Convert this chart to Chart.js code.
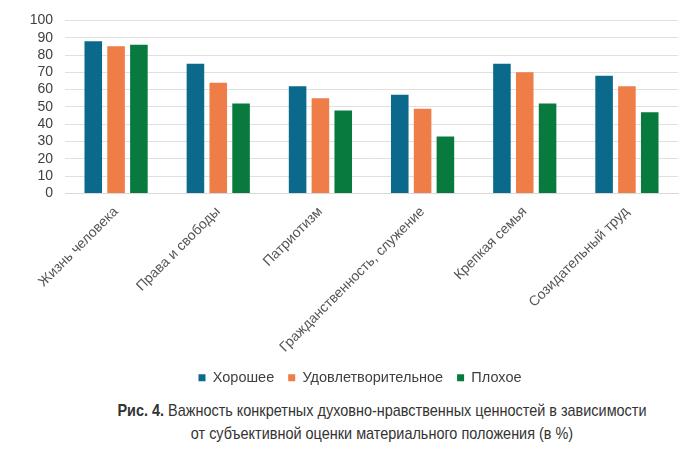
<!DOCTYPE html>
<html lang="ru">
<head>
    <meta charset="UTF-8">
    <title>Рис. 4</title>
    <script src="https://cdn.jsdelivr.net/npm/chart.js@4.4.0/dist/chart.umd.min.js"></script>
    <style>
        body { margin: 0; background: #fff; }
        .wrap { position: relative; width: 700px; height: 449px; }
        .box { position: absolute; left: 0; top: 0; width: 700px; height: 395px; }
        .caption {
            position: absolute; left: 0; top: 399px; width: 700px;
            text-align: center; color: #333;
            font-family: "Liberation Sans Narrow", "Liberation Sans", Arial, sans-serif;
            font-size: 17px; line-height: 23px;
            transform: translateX(32px) scaleX(0.85); transform-origin: 350px 0;
        }
        .caption b { font-weight: bold; }
    </style>
</head>
<body>
<div class="wrap">
    <div class="box"><canvas id="chart"></canvas></div>
    <div class="caption">
        <b>Рис. 4.</b> Важность конкретных духовно-нравственных ценностей в зависимости<br>
        от субъективной оценки материального положения (в %)
    </div>
</div>
<script>
    const categories = [
        'Жизнь человека',
        'Права и свободы',
        'Патриотизм',
        'Гражданственность, служение',
        'Крепкая семья',
        'Созидательный труд',
    ]
    const seriesNames = ['Хорошее', 'Удовлетворительное', 'Плохое']
    const good = [88, 75, 62, 57, 75, 68]
    const fair = [85, 64, 55, 49, 70, 62]
    const bad = [86, 52, 48, 33, 52, 47]
    const colors = ['#0b6a8b', '#ee7d47', '#097a3e']

    const font = { family: '"Liberation Sans", Arial, sans-serif', size: 14 }

    // legend sits a bit right of centre in the original, shift its box
    const legendShift = {
        id: 'legendShift',
        beforeDraw(chart) {
            chart.legend.left = 42
        },
    }

    new Chart(document.getElementById('chart'), {
        type: 'bar',
        data: {
            labels: categories,
            datasets: [good, fair, bad].map((values, i) => ({
                label: seriesNames[i],
                data: values,
                backgroundColor: colors[i],
                borderWidth: 0,
                categoryPercentage: 0.67,
                barPercentage: 0.77,
            })),
        },
        options: {
            responsive: true,
            maintainAspectRatio: false,
            animation: false,
            layout: {
                padding: { left: 0, right: 22, top: 18, bottom: 0 },
            },
            scales: {
                x: {
                    grid: { display: false },
                    border: { color: '#d9d9d9', width: 1 },
                    ticks: {
                        color: '#555',
                        font: font,
                        minRotation: 45,
                        maxRotation: 45,
                        padding: 2,
                        autoSkip: false,
                    },
                    afterFit: (scale) => { scale.height = 163 },
                },
                y: {
                    min: 0,
                    max: 100,
                    ticks: { stepSize: 10, autoSkip: false, color: '#404040', font: font, padding: 12 },
                    grid: { color: '#e0e0e0', drawTicks: false },
                    border: { display: false },
                    afterFit: (scale) => { scale.width = 65 },
                },
            },
            plugins: {
                legend: {
                    position: 'bottom',
                    labels: {
                        color: '#404040',
                        font: { family: font.family, size: 14.5 },
                        boxWidth: 7,
                        boxHeight: 7,
                        padding: 14,
                    },
                },
                tooltip: { enabled: false },
            },
        },
        plugins: [legendShift],
    })
</script>
</body>
</html>
